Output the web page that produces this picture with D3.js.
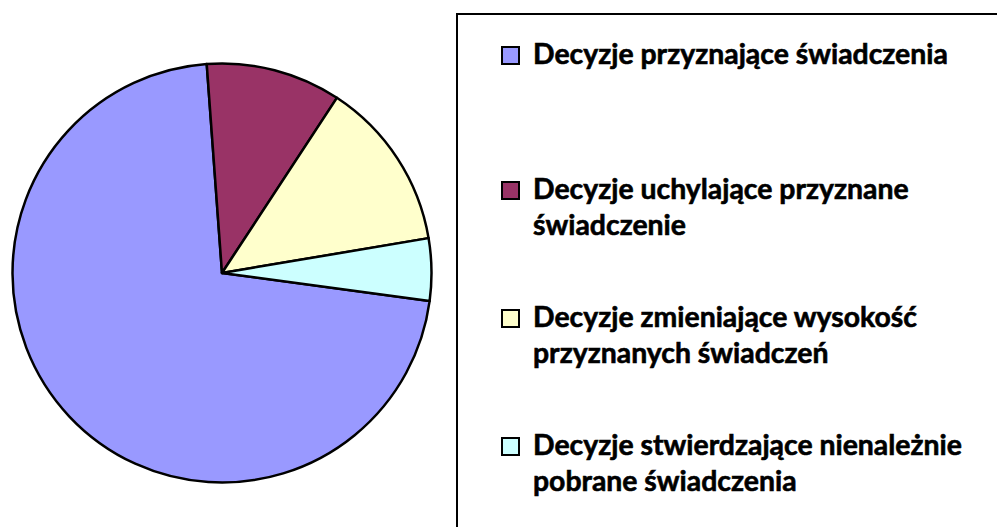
<!DOCTYPE html>
<html>
<head>
<meta charset="utf-8">
<script src="https://cdn.jsdelivr.net/npm/d3@7"></script>
<style>
  html, body { margin: 0; padding: 0; background: #fff; }
  svg { display: block; }
</style>
</head>
<body>
<svg id="chart" width="997" height="527"></svg>
<script>
// --- data ---
const categories = [
  "Decyzje przyznające świadczenia",
  "Decyzje uchylające przyznane świadczenie",
  "Decyzje zmieniające wysokość przyznanych świadczeń",
  "Decyzje stwierdzające nienależnie pobrane świadczenia"
];
const legendLines = [
  ["Decyzje przyznające świadczenia"],
  ["Decyzje uchylające przyznane", "świadczenie"],
  ["Decyzje zmieniające wysokość", "przyznanych świadczeń"],
  ["Decyzje stwierdzające nienależnie", "pobrane świadczenia"]
];
const values = [71.7, 10.4, 13.1, 4.8];
const colors = ["#9999ff", "#993366", "#ffffcc", "#ccffff"];

// --- layout ---
const svg = d3.select("#chart");
const cx = 222, cy = 273, r = 209.5;
const rot = 97.7 * Math.PI / 180;   // first slice angle

const pie = d3.pie().sort(null).value(d => d.v)
  .startAngle(rot).endAngle(rot + 2 * Math.PI);
const arc = d3.arc().innerRadius(0).outerRadius(r);

const slices = pie(values.map((v, i) => ({ v, i })));

svg.append("g")
  .attr("transform", `translate(${cx},${cy})`)
  .selectAll("path")
  .data(slices)
  .join("path")
  .attr("d", arc)
  .attr("fill", d => colors[d.data.i])
  .attr("stroke", "#000")
  .attr("stroke-width", 2.5)
  .attr("stroke-linejoin", "round");

// legend box (runs off the right and bottom edges)
svg.append("rect")
  .attr("x", 457).attr("y", 14)
  .attr("width", 600).attr("height", 600)
  .attr("fill", "#fff").attr("stroke", "#000").attr("stroke-width", 2);

const rowY = [64, 199, 327, 455];  // baselines of first line
const lineGap = 36;
const textX = 533;
const font = "Lato, 'Open Sans', 'DejaVu Sans', sans-serif";

// size font so the first entry fits its measured width
const probe = svg.append("text").attr("font-family", font).attr("font-weight", 700)
  .attr("font-size", 24).text(legendLines[0][0]);
const w = probe.node().getComputedTextLength();
probe.remove();
const fs = 24 * 415 / w;

const leg = svg.append("g");
legendLines.forEach((lines, i) => {
  const g = leg.append("g");
  g.append("rect")
    .attr("x", 502).attr("y", rowY[i] - 17)
    .attr("width", 17).attr("height", 17)
    .attr("fill", colors[i]).attr("stroke", "#000").attr("stroke-width", 2);
  const t = g.append("text")
    .attr("font-family", font).attr("font-weight", 700)
    .attr("font-size", fs).attr("fill", "#000")
    .attr("stroke", "#000").attr("stroke-width", 0.6);
  lines.forEach((s, j) => {
    t.append("tspan").attr("x", textX).attr("y", rowY[i] + j * lineGap).text(s);
  });
});
</script>
</body>
</html>
